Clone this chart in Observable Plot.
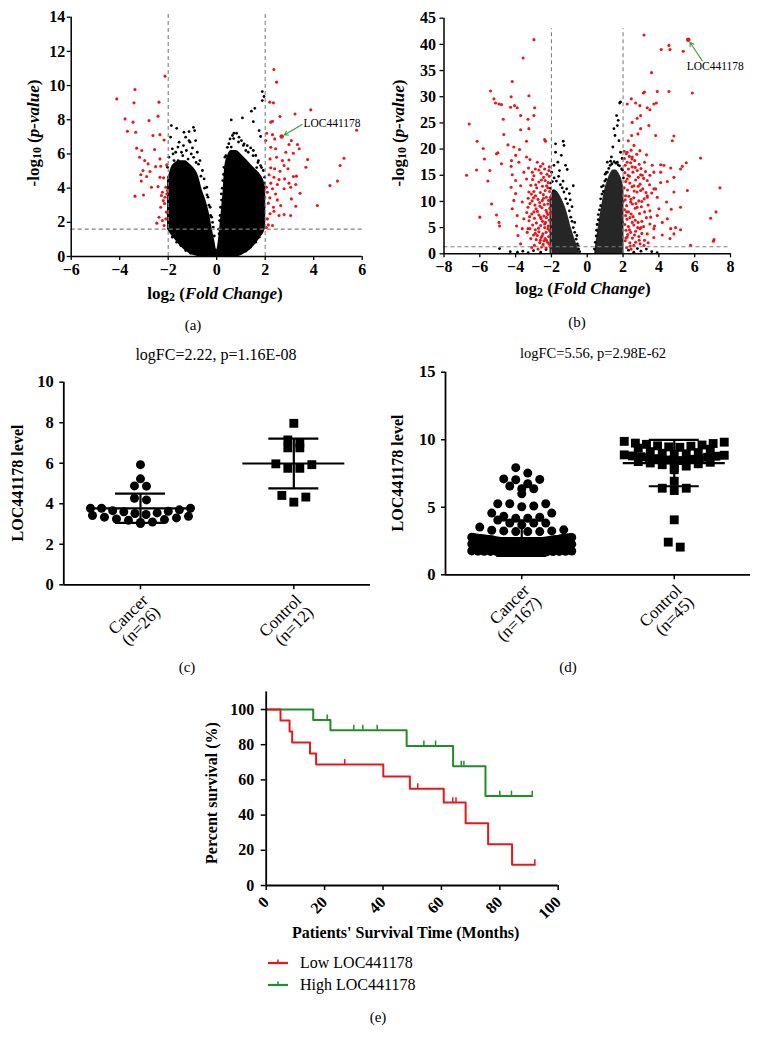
<!DOCTYPE html>
<html><head><meta charset="utf-8">
<script src="https://cdn.jsdelivr.net/npm/d3@7"></script>
<script src="https://cdn.jsdelivr.net/npm/@observablehq/plot@0.6"></script>
<style>
html,body{margin:0;padding:0;background:#fff;}
#fig{position:relative;width:761px;height:1049px;background:#fff;overflow:hidden;font-family:'Liberation Serif','Times New Roman',serif;color:#000;}
#fig svg{position:absolute;overflow:visible;}
#fig svg text{font-family:'Liberation Serif','Times New Roman',serif !important;}
.lbl{position:absolute;white-space:nowrap;transform:translate(-50%,-50%);line-height:1;}
.rot{transform:translate(-50%,-50%) rotate(-90deg);}
sub{font-size:70%;vertical-align:-0.25em;line-height:0;}
</style></head><body><div id="fig"></div><script>
// ---------------- DATA ----------------
// (a) volcano
const aXTicks = [-6,-4,-2,0,2,4,6];
const aYTicks = [0,2,4,6,8,10,12,14];
const aCloudX  = [-2.03,-1.9,-1.7,-1.5,-1.3,-1.1,-0.9,-0.75,-0.6,-0.45,-0.3,-0.18,-0.08,0,0.06,0.12,0.2,0.26,0.33,0.45,0.6,0.8,1.0,1.2,1.4,1.6,1.8,1.95,2.02];
const aCloudHi = [4.4,5.1,5.5,5.6,5.6,5.4,5.1,4.7,3.9,3.3,2.5,1.6,0.9,0.4,0.8,1.6,2.8,3.7,5.2,5.9,6.2,6.2,6.0,5.7,5.4,5.1,4.8,4.4,4.0];
const aCloudLo = [1.6,1.3,0.95,0.6,0.35,0.15,0.05,0,0,0,0,0,0,0,0,0,0,0,0,0,0,0,0.05,0.2,0.4,0.7,1.1,1.4,1.7];
const aBlack = [[-1.87,7.66],[-1.65,7.5],[-1.35,7.27],[-1.14,7.31],[-0.96,7.56],[-0.91,7.37],[-1.14,6.78],
[-1.90,6.98],[-1.83,6.3],[-1.97,5.81],[-1.69,6.1],[-1.55,6.69],[-1.37,6.49],[-1.28,6.98],[-1.10,6.69],[-1.0,6.35],[-0.87,6.78],[-0.80,6.1],[-0.69,5.61],[-0.59,5.03],[-0.52,4.54],[-0.41,4.05],[-0.36,3.47],[-0.27,2.88],[-0.21,2.3],[-0.14,1.72],[-2.03,5.22],[-1.99,4.64],[-2.03,4.05],[-1.99,3.27],[-2.01,2.5],[-1.95,1.91],[-1.92,1.52],[-1.83,1.13],[-1.65,0.84],[-1.48,0.64],[-1.28,0.35],[-1.07,0.19],[-1.76,5.61],[-1.59,5.61],
[-1.8,6.0],[-1.6,6.4],[-1.45,6.1],[-1.25,6.2],[-1.05,6.0],[-0.95,5.8],[-0.75,5.4],[-0.65,4.7],[-0.5,4.0],[-0.4,3.6],[-0.32,3.0],[-0.25,2.4],[-0.17,2.0],[-0.1,1.2],[-1.7,5.3],[-1.4,5.9],[-1.18,5.7],[-0.85,5.5],
[0.30,5.22],[0.34,5.81],[0.44,6.39],[0.55,6.88],[0.65,7.08],[0.82,7.21],[0.92,6.98],[1.02,6.78],[1.13,6.59],[1.26,6.49],[1.40,6.35],[1.51,6.2],[1.61,5.91],[1.72,5.61],[1.81,5.32],[1.92,5.03],[1.98,4.64],[1.95,4.05],[1.98,3.47],[1.95,2.88],[1.92,2.3],[1.88,1.81],[1.84,1.42],[1.75,1.13],[1.61,0.84],[1.40,0.55],[1.20,0.31],[0.19,3.66],[0.16,2.88],[0.12,2.1],[0.10,1.33],[0.25,4.44],
[0.08,1.6],[0.14,2.4],[0.2,3.3],[0.23,4.0],[0.28,4.8],[0.38,5.9],[0.5,6.6],[0.7,6.9],[0.9,6.7],[1.1,6.5],[1.3,6.1],[1.5,5.9],[1.7,5.5],[1.85,5.2],[1.97,4.3],[1.9,3.5],[0.6,6.4],[1.2,6.2],[1.65,5.2],
[0.60,7.99],[1.06,8.11],[1.51,7.89],[1.43,8.5],[1.57,8.67],[1.88,9.12],[1.88,9.65],[1.95,9.36],[1.75,7.37],[1.81,7.02],[0.71,7.21]];
const aRed = [[-4.12,9.22],[-3.37,9.77],[-2.13,10.55],[-3.41,8.99],[-2.38,9.03],[-3.78,8.05],[-3.45,7.86],[-2.79,7.95],[-2.42,8.21],[-3.68,7.33],[-3.34,7.27],[-2.63,7.08],[-2.34,7.13],[-3.30,6.34],[-3.09,6.20],[-2.56,6.26],[-2.17,6.82],[-3.18,5.81],[-2.97,5.61],[-2.83,5.42],[-2.34,5.71],[-2.52,5.26],[-2.31,5.28],[-2.06,5.36],[-3.04,5.03],[-2.75,4.97],[-3.13,4.78],[-2.89,4.68],[-2.34,4.64],[-2.19,4.60],[-3.11,4.41],[-2.69,4.05],[-2.42,4.09],[-2.10,4.05],[-2.03,3.86],[-2.24,3.76],[-3.37,3.53],[-3.02,3.60],[-2.28,3.57],[-2.13,3.47],[-2.20,3.27],[-2.06,3.66],[-2.31,2.88],[-2.38,2.30],[-2.47,1.95],[-2.24,2.10],[-2.10,2.20],[-2.17,1.81],[-2.15,3.1],[-2.08,2.6],
[2.36,10.94],[2.47,10.20],[2.19,9.03],[2.34,8.99],[2.61,8.19],[2.23,7.86],[2.30,7.91],[3.23,8.34],[3.88,8.58],[5.77,7.39],[2.06,7.21],[2.30,7.13],[2.39,6.88],[2.02,6.78],[3.08,6.78],[3.33,6.55],[2.98,6.55],[2.23,6.39],[2.43,6.30],[3.40,6.30],[2.85,6.10],[3.16,6.04],[3.75,5.67],[5.25,5.75],[2.20,5.71],[2.47,5.81],[2.71,5.61],[2.98,5.65],[2.78,5.32],[5.09,5.32],[2.23,5.19],[2.39,5.13],[2.61,4.99],[2.94,5.13],[3.68,5.22],[2.16,4.78],[2.36,4.64],[2.57,4.50],[2.80,4.54],[3.16,4.68],[2.23,4.29],[2.50,4.21],[2.98,4.29],[3.29,4.70],[2.05,4.05],[2.30,3.96],[2.78,3.96],[3.05,4.05],[4.98,4.41],[4.67,4.15],[3.26,4.21],[2.09,3.76],[2.43,3.66],[3.44,3.70],[2.19,3.43],[2.50,3.31],[3.08,3.37],[2.13,3.12],[2.34,2.88],[2.64,2.98],[4.15,2.98],[3.26,2.94],[2.20,2.50],[2.36,2.65],[2.57,2.40],[2.78,2.46],[3.05,2.40],[2.09,2.20],[2.13,1.85],[2.30,1.81],[2.05,1.7]];
const aCut = {fc: 2, p: 1.6, top: 14.3};
const aGene = {name: "LOC441178", x: 2.68, y: 7.02, ax: 3.52, ay: 7.72, tx: 3.58, ty: 7.8};

// (b) volcano
const bXTicks = [-8,-6,-4,-2,0,2,4,6,8];
const bYTicks = [0,5,10,15,20,25,30,35,40,45];
const bCloudLX = [-2.08,-1.95,-1.8,-1.65,-1.5,-1.35,-1.2,-1.05,-0.9,-0.75,-0.6,-0.45];
const bCloudLHi = [10.5,11.8,12.2,11.8,11.0,10.0,8.7,7.0,5.0,3.4,1.9,0.5];
const bCloudRX = [0.42,0.55,0.7,0.85,1.0,1.15,1.3,1.45,1.6,1.75,1.9,2.05];
const bCloudRHi = [0.5,3.5,7.0,10.0,12.5,14.2,15.4,16.0,16.0,15.5,14.5,12.5];
const bBlack = [[1.86,29.0],[1.81,28.8],[1.64,26.4],[1.73,25.5],[1.68,24.5],[1.49,23.9],[1.55,22.6],[1.77,21.6],[1.43,20.4],[1.12,17.5],[1.30,17.7],[1.68,17.5],[1.86,19.4],[1.95,18.2],[1.05,15.5],[0.9,13.0],[0.75,10.5],[0.62,7.5],[0.52,4.5],[1.97,16.0],[2.0,10.0],[1.98,6.0],
[0.4,0.9],[0.45,2.2],[0.5,3.4],[0.55,5.6],[0.62,6.5],[0.68,8.4],[0.75,9.2],[0.82,11.4],[0.9,11.9],[0.98,13.9],[1.05,14.2],[1.12,15.6],[1.2,16.3],[1.28,16.9],[1.38,17.2],[1.5,17.6],[1.6,17.3],[1.72,17.0],[1.8,16.8],[1.92,16.2],[2.02,14.5],[1.0,15.2],[0.8,12.8],[1.35,18.5],
[-1.77,21.0],[-1.34,21.5],[-1.30,20.7],[-1.77,19.4],[-1.45,18.8],[-1.64,17.5],[-1.21,16.9],[-1.12,16.1],[-0.78,13.0],[-1.86,16.9],[-1.99,15.6],[-2.05,13.5],[-1.0,11.5],[-0.85,9.0],[-0.7,6.0],[-0.58,3.5],[-0.5,1.5],
[-2.06,12.5],[-1.95,13.8],[-1.85,14.5],[-1.72,13.9],[-1.6,14.8],[-1.5,13.2],[-1.4,12.6],[-1.3,11.8],[-1.2,10.5],[-1.1,9.6],[-1.0,8.2],[-0.92,7.0],[-0.85,6.2],[-0.78,5.0],[-0.7,4.1],[-0.62,2.8],[-0.55,1.9],[-0.48,0.9],[-0.42,0.4],[-1.55,15.9],[-1.9,12.0],[-1.35,13.9],[-1.15,12.4],[-0.95,10.3],
[-4.9,1.0],[-4.3,0.4],[-3.9,0.3],[-3.6,0.5],[-3.3,0.2],[-3.0,0.6],[-2.6,0.3],[-2.3,0.8],[2.3,0.7],[2.6,0.3],[3.0,0.5],[3.3,0.9],[3.6,0.4],[3.9,0.2],[2.8,1.0]];
const bRed = [[-2.98,40.9],[-3.58,37.4],[-4.19,32.9],[-5.40,31.1],[-3.26,30.2],[-4.25,30.0],[-5.21,29.6],[-5.12,28.8],[-4.93,28.6],[-4.79,28.5],[-4.06,28.3],[-3.91,27.9],[-4.28,28.0],[-2.94,27.9],[-3.72,26.4],[-4.69,25.7],[-3.31,25.7],[-2.98,26.4],[-6.59,24.8],[-3.72,23.7],[-3.26,23.9],[-4.66,22.8],[-2.38,21.8],[-2.33,21.5],[-6.15,21.5],[-4.43,20.8],[-4.10,20.4],[-5.81,20.1],[-3.78,19.9],[-3.39,21.5],[-4.79,17.2],[-4.99,19.3],[-5.07,19.1],[-5.74,18.1],[-3.39,18.5],[-5.44,15.9],[-6.18,16.0],[-5.55,13.9],[-6.74,15.0],[-5.34,9.5],[-6.0,7.0],[-5.07,7.4],[-4.93,6.0],[-4.90,5.3],[-3.95,5.3],[-3.72,1.9],[-4.0,18.8],[-4.23,17.8],[-3.82,17.5],[-4.25,16.7],[-4.19,15.1],[-4.0,14.0],[-4.25,12.7],[-4.0,11.5],[-4.1,10.2],[-4.19,8.6],[-3.91,7.3],[-3.63,4.8],[-3.87,3.5],[-3.31,4.8],
[-3.2,18.0],[-2.79,17.5],[-2.61,16.7],[-2.38,16.2],[-2.14,15.9],[-3.07,15.6],[-3.39,14.3],[-2.70,13.7],[-2.27,13.0],[-3.26,11.8],[-2.89,11.1],[-2.51,10.2],[-2.20,9.5],[-3.31,8.9],[-2.98,8.0],[-2.61,7.0],[-2.33,6.0],[-3.2,4.8],[-2.79,3.5],[-2.42,2.5],[-2.14,1.9],[-3.54,6.7],[-3.63,9.9],[-3.72,13.0],[-3.54,15.6],
[-2.12,14.8],[-2.25,15.2],[-2.44,14.6],[-2.58,15.4],[-2.9,16.2],[-3.05,14.2],[-2.18,13.6],[-2.5,12.9],[-2.82,12.6],[-3.15,13.1],[-2.35,12.1],[-2.62,11.7],[-2.98,11.9],[-3.3,10.6],[-2.1,11.9],[-2.28,10.8],[-2.45,11.3],[-2.75,10.4],[-3.08,10.1],[-2.16,10.2],[-2.4,9.4],[-2.66,9.8],[-2.92,9.3],[-3.2,9.6],[-2.1,8.7],[-2.3,8.3],[-2.53,8.8],[-2.78,8.1],[-3.1,7.6],[-3.38,7.9],[-2.2,7.5],[-2.42,7.2],[-2.7,7.4],[-2.95,6.8],[-3.25,6.3],[-2.12,6.4],[-2.28,6.9],[-2.5,6.2],[-2.84,5.9],[-3.05,5.5],[-2.18,5.3],[-2.38,5.0],[-2.6,5.4],[-2.9,4.6],[-3.35,4.1],[-2.1,4.4],[-2.3,4.1],[-2.48,3.8],[-2.7,4.2],[-3.0,3.6],[-2.16,3.3],[-2.35,2.9],[-2.58,3.1],[-2.85,2.7],[-3.15,2.9],[-2.22,2.2],[-2.46,1.8],[-2.65,2.1],[-2.95,1.6],[-2.08,1.4],[-2.3,1.1],[-2.55,1.3],[-2.75,0.9],[-3.1,1.2],[-2.12,16.6],[-2.48,17.2],[-2.7,16.0],[-2.98,14.9],[-3.28,16.4],[-2.35,14.0],
[-2.2,12.6],[-2.56,14.1],[-2.88,13.2],[-3.12,11.4],[-2.44,10.6],[-2.64,9.1],[-2.86,8.6],[-2.25,7.9],[-2.58,6.7],[-2.38,5.7],[-2.72,4.9],[-2.2,4.8],[-2.52,3.4],[-2.28,2.6],[-2.62,2.6],[-2.9,3.9],[-3.22,7.1],[-3.0,10.7],[-2.06,10.8],[-2.06,7.8],
[3.17,41.8],[4.13,39.0],[4.56,39.8],[4.62,39.0],[5.36,38.7],[3.59,34.6],[3.20,30.9],[3.13,30.7],[3.91,31.0],[4.56,31.0],[5.87,30.7],[2.46,29.6],[2.70,28.8],[2.94,28.3],[2.23,28.6],[3.86,28.8],[3.72,28.6],[3.35,27.9],[3.50,27.5],[2.98,26.4],[2.79,25.9],[2.51,25.1],[3.44,24.5],[2.98,23.9],[2.83,22.9],[3.82,22.6],[2.48,22.6],[4.84,22.5],[4.75,21.6],[2.29,21.6],[2.61,20.7],[2.94,19.7],[2.23,19.4],[3.31,18.9],[2.51,18.5],[6.33,18.3],[4.10,17.0],[4.28,16.9],[5.53,17.4],[5.31,16.7],[5.21,16.2],[4.66,16.4],[3.5,15.0],[2.98,15.1],[3.72,15.6],[4.84,14.6],[4.10,13.6],[4.47,13.8],[3.72,12.4],[4.84,11.8],[5.59,12.1],[7.41,12.6],[3.91,10.8],[4.43,9.9],[5.21,8.9],[4.69,8.5],[3.91,7.3],[6.89,6.8],[7.19,8.0],[4.47,6.7],[4.93,5.0],[5.21,4.6],[7.08,2.7],[7.04,2.4],[5.77,1.6],[3.76,5.3],[4.19,6.0],[4.66,4.8],[4.19,3.6],[3.72,3.1],[4.84,3.8],[4.62,2.9],[3.35,10.8],[3.63,16.9],[3.2,17.5],
[2.23,17.5],[2.51,16.6],[2.79,15.9],[3.07,15.0],[3.35,14.0],[2.23,14.3],[2.61,13.0],[2.98,12.1],[3.35,11.1],[2.14,11.1],[2.42,9.9],[2.79,8.9],[3.20,8.0],[3.54,7.0],[2.14,7.3],[2.51,6.0],[2.94,4.8],[3.35,3.8],[2.23,3.2],[2.70,2.2],[3.17,1.6],[3.72,4.8],[4.0,8.6],[3.82,12.4],[4.1,15.6],
[2.08,18.2],[2.18,19.1],[2.35,18.6],[2.45,19.8],[2.65,17.8],[2.9,17.1],[2.12,16.9],[2.3,16.2],[2.42,17.4],[2.68,16.5],[3.0,16.3],[3.25,15.7],[2.1,15.5],[2.28,15.0],[2.55,15.6],[2.85,14.6],[3.15,14.4],[2.15,13.8],[2.38,13.5],[2.7,14.1],[2.95,13.3],[3.48,13.2],[2.06,12.6],[2.25,12.2],[2.5,12.8],[2.78,11.8],[3.1,12.4],[3.6,11.6],[2.12,10.3],[2.32,11.0],[2.6,10.7],[2.88,10.1],[3.18,10.5],[2.2,9.2],[2.52,9.5],[2.68,8.7],[3.02,9.0],[3.4,9.3],[2.08,8.4],[2.3,8.0],[2.45,7.6],[2.92,7.7],[3.3,6.9],[2.22,6.6],[2.38,6.9],[2.68,6.4],[3.05,6.2],[2.1,5.6],[2.3,5.2],[2.6,5.5],[2.82,5.0],[3.15,5.2],[3.5,5.7],[2.16,4.5],[2.42,4.1],[2.7,4.3],[3.05,3.9],[2.26,3.7],[2.52,3.0],[2.88,3.3],[3.2,2.6],[2.12,2.5],[2.38,2.1],[2.6,1.6],[2.95,1.9],[2.2,1.2],[2.45,0.9],[3.4,2.1],
[2.36,14.8],[2.62,12.0],[2.44,10.4],[2.2,8.0],[2.56,7.1],[2.84,6.0],[2.36,4.6],[2.64,3.6],[2.9,2.6],[2.16,3.0],[2.4,1.5],[3.28,11.7],[3.05,10.0],[2.72,9.6],[2.5,18.1],[2.76,19.0],[2.06,19.6],[3.5,8.2],[2.85,12.9],[3.0,5.0]];
const bCut = {fc: 2, p: 1.35, top: 43};
const bGene = {name: "LOC441178", x: 5.64, y: 40.87, ax: 6.42, ay: 36.9, tx: 5.55, ty: 35.8};

// (c) dot plot
const cGroups = ["Cancer\n(n=26)", "Control\n(n=12)"];
const cYTicks = [0,2,4,6,8,10];
const cCancer = [5.93,5.23,4.88,4.87,4.27,4.19,3.78,3.78,3.78,3.70,3.66,3.63,3.60,3.55,3.52,3.47,3.42,3.38,3.34,3.30,3.25,3.22,3.18,3.10,3.08,3.02];
const cControl = [7.97,7.15,7.00,6.76,6.76,5.97,5.93,5.75,5.75,4.41,4.33,4.08];
const cTitle = "logFC=2.22, p=1.16E-08";

// (d) dot plot
const dGroups = ["Cancer\n(n=167)", "Control\n(n=45)"];
const dYTicks = [0,5,10,15];
const dCancerUpper = [7.93,7.53,7.1,7.06,7.04,6.74,6.57,6.37,6.37,6.0,5.26,5.26,5.26,5.09,5.04,4.57,4.57,4.34,4.27,4.19,4.19,4.05,3.83,3.83,3.83,3.7,3.53,3.33,3.3,3.25,3.25,3.2,3.2,3.2];
const dCancerBand = [2.78,2.63,2.71,2.57,2.66,2.75,2.6,2.69,2.58,2.73,2.64,2.56,2.7,2.62,2.77,2.59,2.67,2.61,2.74,2.65,2.68,2.72,
2.52,2.41,2.33,2.47,2.38,2.5,2.44,2.31,2.36,2.49,2.42,2.35,2.53,2.4,2.46,2.32,2.45,2.39,2.51,2.37,2.43,2.34,2.48,2.42,2.3,
2.28,2.12,2.05,2.21,2.17,2.26,2.09,2.14,2.02,2.23,2.19,2.07,2.25,2.11,2.16,2.01,2.2,2.13,2.27,2.08,2.18,2.04,2.22,2.1,2.15,2.06,2.24,2.12,2.19,2.03,2.17,2.09,2.29,2.14,2.2,2.11,
1.98,1.86,1.93,1.81,1.95,1.89,1.84,1.97,1.91,1.83,1.99,1.87,1.92,1.8,1.94,1.88,1.85,1.96,1.9,1.82,1.93,1.87,1.98,1.84,1.91,1.89,1.95,1.86,1.92,1.88,
1.78,1.72,1.66,1.75,1.69,1.79,1.71,1.74,1.67,1.77,1.7,1.73,1.68,1.76,1.72,1.65,1.74,1.7,1.78,1.73];
const dControl = [6.93,6.41,6.24,6.41,4.07,2.42,2.05,
9.88,9.82,9.75,9.72,9.66,9.61,9.55,9.52,9.47,9.44,9.38,9.3,
9.12,9.05,9.0,8.96,8.92,8.88,8.85,8.8,8.78,8.74,8.7,8.66,8.62,8.6,8.55,8.5,8.46,8.42,8.38,8.33,8.28,8.22,8.15,8.05,7.92,7.78];
const dTitle = "logFC=5.56, p=2.98E-62";

// (e) Kaplan-Meier
const eXTicks = [0,20,40,60,80,100];
const eYTicks = [0,20,40,60,80,100];
const lowName = "Low LOC441178", highName = "High LOC441178";
const lowT = [0,4.9,8.0,8.9,15.0,17.1,40.1,49.2,60.8,68.3,76.0,84.2,92.0];
const lowS = [100,93.75,87.5,81.25,75,68.75,61.9,55.0,47.1,35.3,23.5,11.8,11.8];
const lowCensT = [26.9,51.9,63.9,65.0,92.0];
const lowCensS = [68.75,55.0,47.1,47.1,11.8];
const highT = [0,16.1,22.0,48.1,64.0,75.1,91.1];
const highS = [100,94.1,88.2,79.3,67.8,50.8,50.8];
const highCensT = [20.9,30.0,33.1,38.0,54.0,58.0,66.8,67.7,80.0,84.0,91.1];
const highCensS = [94.1,88.2,88.2,88.2,79.3,79.3,67.8,67.8,50.8,50.8,50.8];

// ---------------- DRAWING ----------------
const SERIF = "Liberation Serif";
const RED = "#e8171c", GREEN = "#1f8f24", ARROW = "#3aa23a", DASH = "#808080";
const fig = document.getElementById("fig");
const baseStyle = {fontFamily: "'Liberation Serif', serif", fontSize: "16px", fontWeight: "bold", color: "#000", background: "none", overflow: "visible"};
const axFont = {fontFamily: SERIF, fontWeight: "bold"};

function place(svg, left, top) { svg.style.left = left + "px"; svg.style.top = top + "px"; fig.append(svg); }
function addLabel(html, cx, cy, o = {}) {
  const d = document.createElement("div");
  d.className = "lbl" + (o.rot ? " rot" : "");
  d.innerHTML = html;
  d.style.left = cx + "px"; d.style.top = cy + "px";
  d.style.fontSize = (o.size || 16) + "px";
  d.style.fontWeight = o.bold ? "bold" : "normal";
  fig.append(d);
}
const pts = a => a.map(([x, y]) => ({x, y}));
const band = (xs, lo, hi) => xs.map((x, i) => ({x, lo: lo ? lo[i] : 0, hi: hi[i]}));

function volcano(o) {
  return Plot.plot({
    width: o.width, height: o.height,
    marginLeft: o.ml, marginRight: o.mr, marginTop: o.mt, marginBottom: o.mb,
    x: {domain: [o.xTicks[0], o.xTicks[o.xTicks.length - 1]]},
    y: {domain: [0, o.yTicks[o.yTicks.length - 1]]},
    style: baseStyle,
    marks: [
      ...o.areas.map(a => Plot.areaY(a.data, {x: "x", y1: "lo", y2: "hi", fill: a.fill, fillOpacity: a.opacity, curve: "monotone-x"})),
      Plot.dot(pts(o.black), {x: "x", y: "y", r: 1.4, fill: "#000"}),
      Plot.dot(pts(o.red), {x: "x", y: "y", r: 1.55, fill: RED}),
      Plot.ruleX([-o.cut.fc, o.cut.fc], {y1: 0, y2: o.cut.top, stroke: DASH, strokeWidth: 1.1, strokeDasharray: "4,3"}),
      Plot.ruleY([o.cut.p], {stroke: DASH, strokeWidth: 1.1, strokeDasharray: "4,3"}),
      Plot.ruleY([0], {strokeWidth: 1.5}),
      Plot.ruleX([o.xTicks[0]], {strokeWidth: 1.5}),
      Plot.axisX({ticks: o.xTicks, tickSize: 4, tickPadding: 3, label: null, strokeWidth: 1.3, fontSize: 16, ...axFont}),
      Plot.axisY({ticks: o.yTicks, tickSize: 4, tickPadding: o.ypad, label: null, strokeWidth: 1.3, fontSize: 16, ...axFont}),
      Plot.dot([o.gene], {x: "x", y: "y", r: 2.3, fill: RED}),
      Plot.arrow([o.gene], {x1: "ax", y1: "ay", x2: "x", y2: "y", stroke: ARROW, strokeWidth: 1.1, headLength: 6, insetEnd: 3}),
      Plot.text([o.gene], {x: "tx", y: "ty", text: "name", textAnchor: "start", lineAnchor: "middle", fontSize: 11.5, fontWeight: "normal", fontFamily: SERIF})
    ]
  });
}

// (a)
place(volcano({width: 380, height: 290, ml: 70.7, mr: 18.3, mt: 16.7, mb: 34, ypad: 2,
  xTicks: aXTicks, yTicks: aYTicks,
  areas: [{data: band(aCloudX, aCloudLo, aCloudHi), fill: "#000", opacity: 1}],
  black: aBlack, red: aRed, cut: aCut, gene: aGene}), 0, 0);
// (b)
place(volcano({width: 381, height: 286, ml: 63.5, mr: 31, mt: 17.7, mb: 32.7, ypad: 4,
  xTicks: bXTicks, yTicks: bYTicks,
  areas: [
    {data: band(bCloudLX, null, bCloudLHi), fill: "#000", opacity: 0.85},
    {data: band(bCloudRX, null, bCloudRHi), fill: "#000", opacity: 0.85}],
  black: bBlack, red: bRed, cut: bCut, gene: bGene}), 380, 0);

addLabel("-log<sub>10</sub> (<i>p-value</i>)", 33, 133, {rot: true, bold: true, size: 17});
addLabel("log<sub>2</sub> (<i>Fold Change</i>)", 215, 293, {bold: true, size: 17});
addLabel("(a)", 193, 325, {size: 15});
addLabel("-log<sub>10</sub> (<i>p-value</i>)", 398, 133, {rot: true, bold: true, size: 17});
addLabel("log<sub>2</sub> (<i>Fold Change</i>)", 583, 288, {bold: true, size: 17});
addLabel("(b)", 577, 322, {size: 15});

// scatter dot layout (GraphPad-like rows): values grouped in rows, spread horizontally
function swarm(values, cat, binU, spacingPx, maxWidthPx, pxPerUnit) {
  const s = values.slice().sort((a, b) => b - a);
  const out = [];
  let i = 0;
  while (i < s.length) {
    let j = i;
    while (j < s.length && s[i] - s[j] < binU) j++;
    const row = s.slice(i, j), n = row.length;
    const sp = n > 1 ? Math.min(spacingPx, maxWidthPx / (n - 1)) : 0;
    const pos = d3.range(n).map(k => (k - (n - 1) / 2) * sp).sort((a, b) => Math.abs(b) - Math.abs(a) || a - b);
    row.forEach((v, k) => out.push({v, x: cat + pos[k] / pxPerUnit}));
    i = j;
  }
  return out;
}

function dotPlot(o) {
  const ppu = (o.width - o.ml - o.mr) / 2;
  const dots0 = swarm(o.g0, 0, o.bin, 12, 100, ppu);
  const dots1 = swarm(o.g1, 1, o.bin, 12, 100, ppu);
  const stats = [o.g0, o.g1].map((v, c) => ({c, m: d3.mean(v), s: d3.deviation(v)}));
  const cats = o.groups.map((label, c) => ({c, label}));
  const lw = 2.2;
  return Plot.plot({
    width: o.width, height: o.height,
    marginLeft: o.ml, marginRight: o.mr, marginTop: o.mt, marginBottom: o.mb,
    x: {domain: [-0.5, 1.5]},
    y: {domain: [0, o.yTicks[o.yTicks.length - 1]]},
    style: baseStyle,
    marks: [
      Plot.dot(dots0, {x: "x", y: "v", r: 4.5, fill: "#000", symbol: "circle"}),
      Plot.dot(dots1, {x: "x", y: "v", r: 5, fill: "#000", symbol: "square"}),
      Plot.ruleY(stats, {y: "m", x1: d => d.c - 51 / ppu, x2: d => d.c + 51 / ppu, strokeWidth: lw}),
      Plot.ruleY(stats, {y: d => d.m + d.s, x1: d => d.c - 25 / ppu, x2: d => d.c + 25 / ppu, strokeWidth: lw}),
      Plot.ruleY(stats, {y: d => d.m - d.s, x1: d => d.c - 25 / ppu, x2: d => d.c + 25 / ppu, strokeWidth: lw}),
      Plot.ruleX(stats, {x: "c", y1: d => d.m - d.s, y2: d => d.m + d.s, strokeWidth: lw}),
      Plot.ruleY([0], {strokeWidth: 1.8}),
      Plot.ruleX([-0.5], {strokeWidth: 1.8}),
      Plot.axisY({ticks: o.yTicks, tickSize: 4, tickPadding: 6, label: null, strokeWidth: 1.5, fontSize: 16.5, ...axFont}),
      Plot.axisX({ticks: [0, 1], tickSize: 5, tickFormat: () => "", label: null, strokeWidth: 1.5}),
      Plot.text(cats, {x: "c", y: () => 0, text: "label", rotate: -45, textAnchor: "end", lineAnchor: "top", lineHeight: 1.0, dx: 0, dy: 8, fontSize: 17, fontWeight: "normal", fontFamily: SERIF})
    ]
  });
}

// (c)
place(dotPlot({width: 380, height: 300, ml: 63.3, mr: 10, mt: 41.7, mb: 55.7, bin: 0.35,
  yTicks: cYTicks, g0: cCancer, g1: cControl, groups: cGroups}), 0, 340);
// (d)
place(dotPlot({width: 381, height: 300, ml: 65, mr: 11, mt: 31.7, mb: 65.7, bin: 0.5,
  yTicks: dYTicks, g0: dCancerUpper.concat(dCancerBand), g1: dControl, groups: dGroups}), 380, 340);

addLabel(cTitle, 216, 355, {size: 16});
addLabel("LOC441178 level", 18.3, 483, {rot: true, bold: true, size: 16});
addLabel("(c)", 187, 667, {size: 15});
addLabel(dTitle, 593, 353, {size: 14.5});
addLabel("LOC441178 level", 398, 473, {rot: true, bold: true, size: 16});
addLabel("(d)", 568, 667, {size: 15});

// (e)
const lowData = lowT.map((t, i) => ({t, s: lowS[i]}));
const highData = highT.map((t, i) => ({t, s: highS[i]}));
const lowCens = lowCensT.map((t, i) => ({t, s: lowCensS[i]}));
const highCens = highCensT.map((t, i) => ({t, s: highCensS[i]}));
place(Plot.plot({
  width: 420, height: 290, marginLeft: 85.7, marginRight: 42.3, marginTop: 31.4, marginBottom: 65,
  x: {domain: [0, 100]}, y: {domain: [0, 110]},
  style: {...baseStyle, fontSize: "15px"},
  marks: [
    Plot.line(highData, {x: "t", y: "s", curve: "step-after", stroke: GREEN, strokeWidth: 2}),
    Plot.ruleX(highCens, {x: "t", y1: "s", y2: d => d.s + 2.8, stroke: GREEN, strokeWidth: 1.5}),
    Plot.line(lowData, {x: "t", y: "s", curve: "step-after", stroke: RED, strokeWidth: 2}),
    Plot.ruleX(lowCens, {x: "t", y1: "s", y2: d => d.s + 2.8, stroke: RED, strokeWidth: 1.5}),
    Plot.ruleY([0], {strokeWidth: 1.8}),
    Plot.ruleX([0], {strokeWidth: 1.8}),
    Plot.axisY({ticks: eYTicks, tickSize: 5, tickPadding: 7, label: null, strokeWidth: 1.5, fontSize: 16, ...axFont}),
    Plot.axisX({ticks: eXTicks, tickSize: 5, tickPadding: 9, tickRotate: -45, label: null, strokeWidth: 1.5, fontSize: 16, ...axFont})
  ]
}), 180, 660);

addLabel("Percent survival (%)", 211.7, 793, {rot: true, bold: true, size: 16});
addLabel("Patients' Survival Time (Months)", 405.7, 933, {bold: true, size: 16});
[{name: lowName, color: RED}, {name: highName, color: GREEN}].forEach((it, i) => {
  const d = document.createElement("div");
  d.style.cssText = `position:absolute;left:266px;top:${953 + i * 21.5}px;height:20px;display:flex;align-items:center;font-size:16px;white-space:nowrap;`;
  d.innerHTML = `<svg width="24" height="20" style="position:static"><line x1="2" x2="22" y1="10" y2="10" stroke="${it.color}" stroke-width="2.2"/><line x1="12" x2="12" y1="10" y2="6.5" stroke="${it.color}" stroke-width="1.5"/></svg><span style="margin-left:10px">${it.name}</span>`;
  fig.append(d);
});
addLabel("(e)", 378, 1017, {size: 15});
</script></body></html>
